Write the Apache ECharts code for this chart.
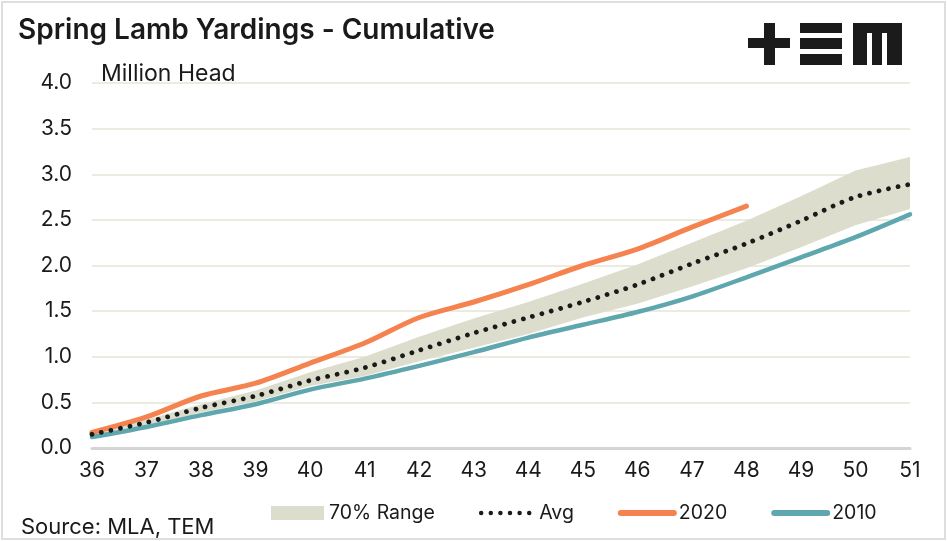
<!DOCTYPE html>
<html>
<head>
<meta charset="utf-8">
<script src="https://cdn.jsdelivr.net/npm/echarts@6/dist/echarts.min.js"></script>
<style>
  html, body { margin: 0; padding: 0; background: #fff; }
  #chart { position: absolute; left: 0; top: 0; width: 947px; height: 541px; }
  #frame { position: absolute; left: 1px; top: 1px; width: 941px; height: 535px; border: 2px solid #dedede; pointer-events: none; }
</style>
</head>
<body>
<div id="chart"></div>
<div id="frame"></div>
<script>
const weeks = ['36','37','38','39','40','41','42','43','44','45','46','47','48','49','50','51'];
const rangeLow  = [0.13, 0.24, 0.39, 0.51, 0.68, 0.79, 0.95, 1.10, 1.25, 1.43, 1.58, 1.77, 1.97, 2.20, 2.44, 2.62];
const rangeHigh = [0.17, 0.31, 0.48, 0.63, 0.83, 1.00, 1.22, 1.42, 1.60, 1.80, 2.01, 2.25, 2.49, 2.76, 3.04, 3.19];
const avg       = [0.15, 0.28, 0.44, 0.57, 0.74, 0.88, 1.07, 1.26, 1.43, 1.60, 1.79, 2.02, 2.24, 2.49, 2.75, 2.89];
const y2020     = [0.17, 0.34, 0.57, 0.71, 0.93, 1.15, 1.43, 1.60, 1.79, 2.00, 2.18, 2.42, 2.65];
const y2010     = [0.12, 0.23, 0.36, 0.48, 0.64, 0.76, 0.90, 1.05, 1.21, 1.35, 1.49, 1.66, 1.87, 2.09, 2.31, 2.56];
const yTicks    = ['0.0','0.5','1.0','1.5','2.0','2.5','3.0','3.5','4.0'];

const FONT = 'Inter, "Noto Sans", sans-serif';
const TXT = '#1a1a1a';
const C_BAND = '#dcddcd';
const C_2020 = '#f5834f';
const C_2010 = '#5ea7ae';
const C_AVG = '#1a1a1a';

const rangeSpan = rangeHigh.map((h, i) => +(h - rangeLow[i]).toFixed(3));

const chart = echarts.init(document.getElementById('chart'), null, { renderer: 'canvas' });
chart.setOption({
  animation: false,
  backgroundColor: '#fff',
  textStyle: { fontFamily: FONT, color: TXT },
  title: [
    { text: 'Spring Lamb Yardings - Cumulative', left: 13, top: 12,
      textStyle: { fontFamily: FONT, fontSize: 28, fontWeight: 600, color: TXT } },
    { text: 'Million Head', left: 96, top: 58,
      textStyle: { fontFamily: FONT, fontSize: 23, fontWeight: 400, color: TXT } },
    { text: 'Source: MLA, TEM', left: 16, top: 511,
      textStyle: { fontFamily: FONT, fontSize: 22, fontWeight: 400, color: TXT } }
  ],
  grid: { left: 92, right: 37, top: 83, bottom: 93, containLabel: false },
  legend: {
    left: 266, top: 498,
    itemWidth: 53, itemHeight: 14, itemGap: 44,
    textStyle: { fontFamily: FONT, fontSize: 19.5, color: TXT, padding: [0, 0, 0, 0] },
    data: [
      { name: '70% Range', icon: 'rect', itemStyle: { color: C_BAND } },
      { name: 'Avg', itemStyle: { opacity: 0 },
        lineStyle: { color: C_AVG, width: 4.5, type: [0.01, 9.6], cap: 'round' } },
      { name: '2020', itemStyle: { opacity: 0 },
        lineStyle: { color: C_2020, width: 6, cap: 'round' } },
      { name: '2010', itemStyle: { opacity: 0 },
        lineStyle: { color: C_2010, width: 6, cap: 'round' } }
    ]
  },
  xAxis: {
    type: 'category',
    data: weeks,
    boundaryGap: false,
    axisLine: { show: true, lineStyle: { color: '#d4d4d4', width: 3 } },
    axisTick: { show: false },
    axisLabel: { fontFamily: FONT, fontSize: 21, color: TXT, margin: 12, interval: 0 },
    splitLine: { show: false }
  },
  yAxis: {
    type: 'value',
    min: 0, max: 4, interval: 0.5,
    axisLine: { show: false },
    axisTick: { show: false },
    axisLabel: { fontFamily: FONT, fontSize: 21, color: TXT, margin: 20,
      formatter: v => yTicks[Math.round(v / 0.5)] },
    splitLine: { show: true, lineStyle: { color: '#ebebe0', width: 2 } }
  },
  series: [
    { name: 'rangeBase', type: 'line', stack: 'band', data: rangeLow, symbol: 'none',
      lineStyle: { opacity: 0 }, areaStyle: { opacity: 0 }, silent: true, z: 1 },
    { name: '70% Range', type: 'line', stack: 'band', data: rangeSpan, symbol: 'none',
      lineStyle: { opacity: 0, width: 0 }, itemStyle: { color: C_BAND },
      areaStyle: { color: C_BAND, opacity: 1 }, z: 1 },
    { name: '2010', type: 'line', data: y2010, symbol: 'none', smooth: 0.3,
      itemStyle: { color: C_2010 }, lineStyle: { color: C_2010, width: 4.5, cap: 'round' }, z: 3 },
    { name: '2020', type: 'line', data: y2020, symbol: 'none', smooth: 0.3,
      itemStyle: { color: C_2020 }, lineStyle: { color: C_2020, width: 5, cap: 'round' }, z: 4 },
    { name: 'Avg', type: 'line', data: avg, symbol: 'none', smooth: 0.3,
      itemStyle: { color: C_AVG },
      lineStyle: { color: C_AVG, width: 4.8, type: [0.01, 9.7], cap: 'round' }, z: 5 }
  ],
  graphic: [
    { type: 'group', left: 748, top: 23, children: [
      { type: 'rect', shape: { x: 0, y: 15, width: 42, height: 10 }, style: { fill: '#1b1b1b' } },
      { type: 'rect', shape: { x: 16, y: 0, width: 11, height: 42 }, style: { fill: '#1b1b1b' } },
      { type: 'rect', shape: { x: 52, y: 0, width: 42, height: 10 }, style: { fill: '#1b1b1b' } },
      { type: 'rect', shape: { x: 52, y: 15, width: 42, height: 11 }, style: { fill: '#1b1b1b' } },
      { type: 'rect', shape: { x: 52, y: 31, width: 42, height: 11 }, style: { fill: '#1b1b1b' } },
      { type: 'rect', shape: { x: 105, y: 0, width: 49, height: 10 }, style: { fill: '#1b1b1b' } },
      { type: 'rect', shape: { x: 105, y: 0, width: 14, height: 42 }, style: { fill: '#1b1b1b' } },
      { type: 'rect', shape: { x: 124, y: 0, width: 10, height: 42 }, style: { fill: '#1b1b1b' } },
      { type: 'rect', shape: { x: 139, y: 0, width: 15, height: 42 }, style: { fill: '#1b1b1b' } }
    ] }
  ]
});
</script>
</body>
</html>
